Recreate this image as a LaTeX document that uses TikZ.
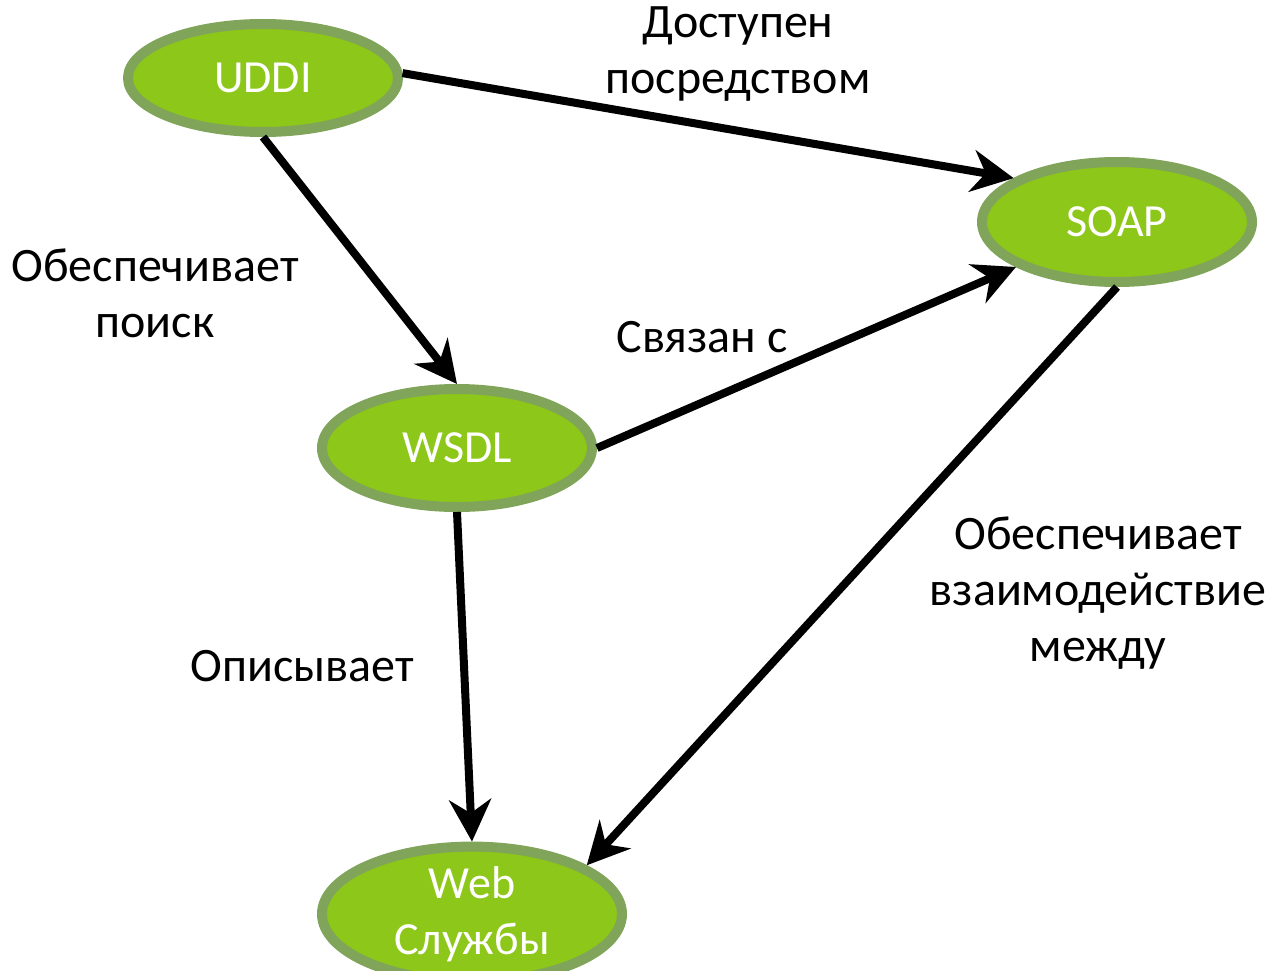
\documentclass[tikz,border=0pt]{standalone}
\usepackage{fontspec}
\setmainfont{Carlito}
\usetikzlibrary{shapes.geometric,arrows.meta}
\definecolor{nodefill}{RGB}{141,199,26}
\definecolor{nodeborder}{RGB}{128,164,90}
\tikzset{
  ell/.style={ellipse, draw=nodeborder, line width=10pt, fill=nodefill, inner sep=0pt,
    text=white, font=\fontsize{46}{56}\selectfont, align=center},
  lbl/.style={font=\fontsize{48}{56}\selectfont, align=center, inner sep=0pt},
  conn/.style={line width=8pt, -{Stealth[length=42pt,width=42pt]}}
}
\begin{document}
\begin{tikzpicture}[x=1pt,y=-1pt]
\useasboundingbox (0,0) rectangle (1272,971);
\node[ell, minimum width=270pt, minimum height=108pt] (uddi) at (263,78) {UDDI};
\node[ell, minimum width=270pt, minimum height=120pt] (soap) at (1117,222) {SOAP};
\node[ell, minimum width=270pt, minimum height=118pt] (wsdl) at (457,448) {WSDL};
\node[ell, minimum width=300pt, minimum height=120pt] (web) at (472,914) {Web\\Службы};

\draw[conn] (uddi.2) -- (soap.157);
\draw[conn] (uddi.270) -- (wsdl.90);
\draw[conn] (wsdl.0) -- (soap.204);
\draw[conn] (wsdl.270) -- (web.90);
\draw[conn] (soap.270) -- (web.23);

\node[lbl] (l1) at (738,54) {Доступен\\посредством};
\node[lbl] (l2) at (155,293) {Обеспечивает\\поиск};
\node[lbl] (l3) at (702,337) {Связан с};
\node[lbl] (l4) at (302,666) {Описывает};
\node[lbl] (l5) at (1098,593) {Обеспечивает\\взаимодействие\\между};
\end{tikzpicture}
\end{document}
